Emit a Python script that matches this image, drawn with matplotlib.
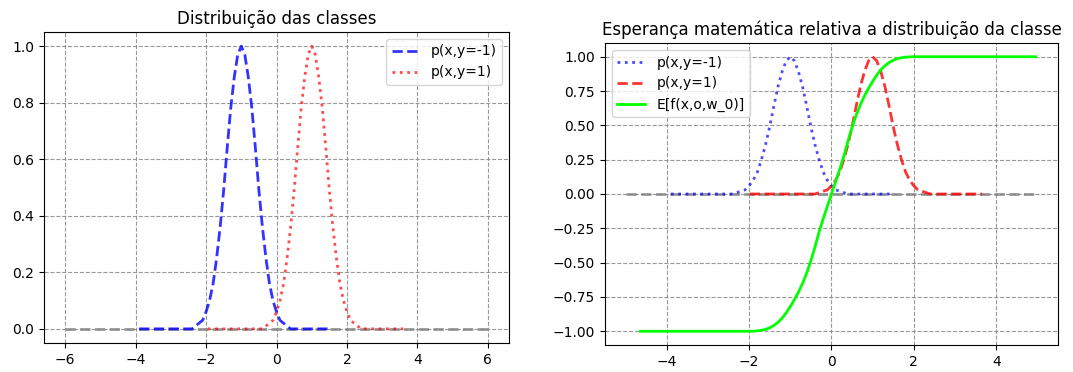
import numpy as np
import matplotlib
matplotlib.use("Agg")
import matplotlib.pyplot as plt

# bell shape (peak 1) read at offsets -1.5..1.5 from the centre, step 0.1
bump_dx = np.round(np.arange(-1.5, 1.51, 0.1), 1)
bump_y = [0.00, 0.00, 0.01, 0.02, 0.03, 0.06, 0.10, 0.16, 0.25, 0.36,
          0.49, 0.64, 0.78, 0.89, 0.97, 1.00, 0.97, 0.89, 0.78, 0.64,
          0.49, 0.36, 0.25, 0.16, 0.10, 0.06, 0.03, 0.02, 0.01, 0.00, 0.00]

centre_neg = -1.0
centre_pos = 1.0

# left panel data ranges
left_neg_range = (-3.9, 1.45)
left_pos_range = (-1.95, 3.6)
left_zero_range = (-6.0, 6.0)

# right panel data ranges
right_neg_range = (-3.9, 1.45)
right_pos_range = (-1.98, 3.66)
right_zero_range = (-5.0, 5.0)

# expectation curve
exp_x = [-4.64, -2.0, -1.9, -1.8, -1.7, -1.6, -1.5, -1.4, -1.3, -1.2, -1.1,
         -1.0, -0.9, -0.8, -0.7, -0.6, -0.5, -0.4, -0.3, -0.2, -0.1, 0.0,
         0.1, 0.2, 0.3, 0.4, 0.5, 0.6, 0.7, 0.8, 0.9, 1.0,
         1.1, 1.2, 1.3, 1.4, 1.5, 1.6, 1.7, 1.8, 1.9, 2.0, 4.96]
exp_y = [-1.0, -1.0, -0.999, -0.997, -0.993, -0.986, -0.975, -0.958, -0.935, -0.905, -0.866,
         -0.82, -0.77, -0.714, -0.65, -0.575, -0.485, -0.385, -0.275, -0.18, -0.09, 0.0,
         0.09, 0.18, 0.275, 0.385, 0.485, 0.575, 0.65, 0.714, 0.77, 0.82,
         0.866, 0.905, 0.935, 0.958, 0.975, 0.986, 0.993, 0.997, 0.999, 1.0, 1.0]


def bell(centre, rng):
    xs = [rng[0]] + list(centre + bump_dx) + [rng[1]]
    ys = [0.0] + bump_y + [0.0]
    return xs, ys


fig = plt.figure(figsize=(10.73, 3.72), dpi=100)

# left panel
ax1 = fig.add_axes([0.041, 0.078, 0.4334, 0.836])
ax1.plot(left_zero_range, [0, 0], "--", color="gray", lw=2, alpha=0.8)
xb, yb = bell(centre_neg, left_neg_range)
ax1.plot(xb, yb, "--", color="blue", lw=2, alpha=0.8, label="p(x,y=-1)")
xr, yr = bell(centre_pos, left_pos_range)
ax1.plot(xr, yr, ":", color="red", lw=2, alpha=0.7, label="p(x,y=1)")
ax1.set_xlim(-6.6, 6.6)
ax1.set_ylim(-0.05, 1.05)
ax1.grid(True, linestyle="--", color="gray", alpha=0.8)
ax1.legend(loc="upper right")
ax1.set_title("Distribuição das classes")

# right panel
ax2 = fig.add_axes([0.5638, 0.0726, 0.4222, 0.8118])
ax2.plot(right_zero_range, [0, 0], "--", color="gray", lw=2, alpha=0.8)
xb, yb = bell(centre_neg, right_neg_range)
ax2.plot(xb, yb, ":", color="blue", lw=2, alpha=0.7, label="p(x,y=-1)")
xr, yr = bell(centre_pos, right_pos_range)
ax2.plot(xr, yr, "--", color="red", lw=2, alpha=0.8, label="p(x,y=1)")
ax2.plot(exp_x, exp_y, "-", color="lime", lw=2, label="E[f(x,o,w_0)]")
ax2.set_xlim(-5.5, 5.5)
ax2.set_ylim(-1.1, 1.1)
ax2.set_yticks([-1.0, -0.75, -0.5, -0.25, 0.0, 0.25, 0.5, 0.75, 1.0])
ax2.grid(True, linestyle="--", color="gray", alpha=0.8)
ax2.legend(loc="upper left")
ax2.set_title("Esperança matemática relativa a distribuição da classe")

fig.savefig("out.png", dpi=100)
